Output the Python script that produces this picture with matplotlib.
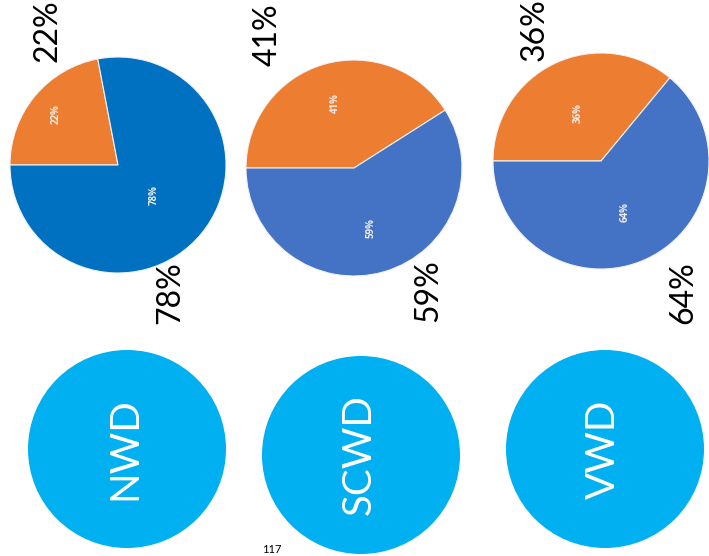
import numpy as np
import matplotlib.pyplot as plt
from matplotlib.patches import Circle

# data
groups = ["NWD", "SCWD", "VWD"]
share_orange = [22, 41, 36]
share_blue = [78, 59, 64]

plt.rcParams['font.family'] = ['Lato', 'DejaVu Sans']

W, H = 709, 556
fig = plt.figure(figsize=(W / 100, H / 100), dpi=100)
ax = fig.add_axes([0, 0, 1, 1])

# layout in image pixels (x, y from top)
pie_centers = [(118, 165), (354, 168), (601, 161)]
pie_radius = 108
blue_cols = ['#0070C0', '#4472C4', '#4472C4']
orange = '#ED7D31'
inner_frac = [(0.74, 0.44), (0.63, 0.58), (0.49, 0.52)]
outer_pos = [((47, 31), (170, 293)), ((268, 35), (428, 291)), ((535, 30), (683, 293))]

circle_centers = [(127, 449), (361, 455), (605, 449)]
circle_radius = 99

for i, g in enumerate(groups):
    cx, cy = pie_centers[i]
    cy = H - cy
    vals = [share_orange[i], share_blue[i]]
    wedges, _ = ax.pie(vals, colors=[orange, blue_cols[i]], startangle=180,
                       counterclock=False, center=(cx, cy), radius=pie_radius,
                       wedgeprops=dict(edgecolor='#F2F2F2', linewidth=0.8),
                       frame=True)
    for w, v, fr in zip(wedges, vals, inner_frac[i]):
        mid = np.deg2rad((w.theta1 + w.theta2) / 2)
        ax.text(cx + fr * pie_radius * np.cos(mid), cy + fr * pie_radius * np.sin(mid),
                f"{v}%", rotation=90, ha='center', va='center', color='#EDEDED',
                fontsize=7, fontweight='bold', family=['Open Sans', 'DejaVu Sans'])
    for (x, y), v in zip(outer_pos[i], vals):
        ax.text(x, H - y, f"{v}%", rotation=90, ha='center', va='center',
                color='black', fontsize=23)

    ccx, ccy = circle_centers[i]
    ax.add_patch(Circle((ccx, H - ccy), circle_radius, color='#00B0F0', lw=0))
    ax.text(ccx - 2, H - ccy, g, rotation=90, ha='center', va='center',
            color='white', fontsize=29)

ax.set_xlim(0, W)
ax.set_ylim(0, H)
ax.set_aspect('equal')
ax.axis('off')

fig.text(272 / W, 1 / H, "117", ha='center', va='bottom', fontsize=8)

fig.savefig("out.png", dpi=100)
